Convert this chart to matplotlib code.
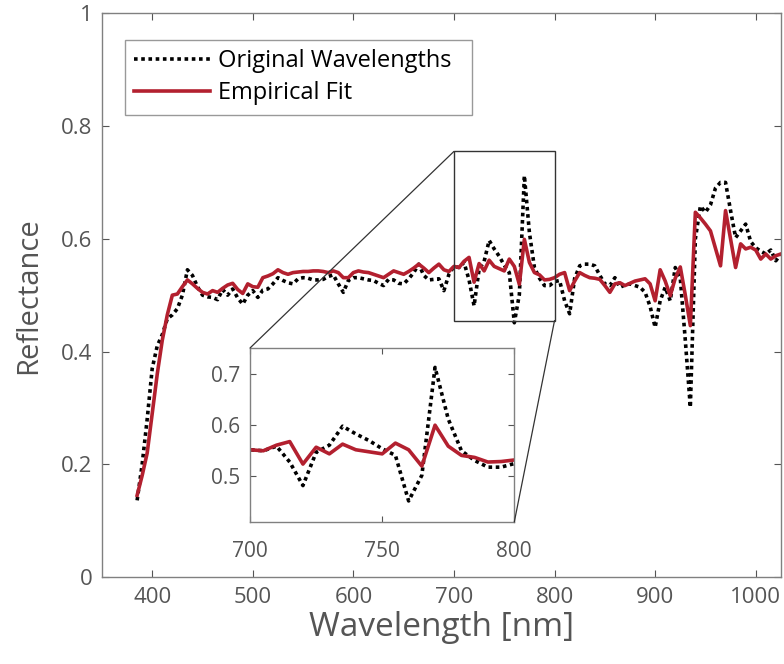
import matplotlib
matplotlib.use("Agg")
import matplotlib.pyplot as plt
import numpy as np
from matplotlib.patches import Rectangle, ConnectionPatch

plt.rcParams['font.family'] = ['Open Sans', 'DejaVu Sans']

# wavelength grid [nm], 5 nm steps
wavelength = np.arange(385, 1026, 5)

original = [
    0.136, 0.20, 0.28, 0.37, 0.41, 0.43, 0.458, 0.465, 0.476, 0.50,
    0.545, 0.535, 0.515, 0.50, 0.497, 0.496, 0.492, 0.51, 0.50, 0.511,
    0.495, 0.484, 0.50, 0.508, 0.496, 0.509, 0.511, 0.52, 0.531, 0.526,
    0.522, 0.52, 0.529, 0.531, 0.530, 0.527, 0.527, 0.528, 0.533, 0.536,
    0.52, 0.505, 0.526, 0.531, 0.531, 0.529, 0.527, 0.526, 0.521, 0.517,
    0.528, 0.527, 0.521, 0.52, 0.529, 0.54, 0.555, 0.535, 0.527, 0.528,
    0.529, 0.508, 0.537, 0.551, 0.549, 0.558, 0.527, 0.481, 0.546, 0.56,
    0.597, 0.582, 0.569, 0.553, 0.540, 0.451, 0.501, 0.712, 0.611, 0.549,
    0.530, 0.517, 0.517, 0.524, 0.526, 0.49, 0.467, 0.53, 0.552, 0.555,
    0.555, 0.552, 0.535, 0.52, 0.517, 0.531, 0.514, 0.518, 0.520, 0.517,
    0.514, 0.505, 0.48, 0.443, 0.49, 0.514, 0.490, 0.549, 0.530, 0.42,
    0.301, 0.60, 0.658, 0.647, 0.66, 0.690, 0.700, 0.700, 0.650, 0.602,
    0.614, 0.626, 0.595, 0.584, 0.578, 0.573, 0.580, 0.561, 0.573,
]

fit = [
    0.145, 0.18, 0.22, 0.29, 0.36, 0.42, 0.465, 0.50, 0.502, 0.515,
    0.527, 0.52, 0.512, 0.505, 0.502, 0.508, 0.505, 0.512, 0.518, 0.521,
    0.51, 0.503, 0.52, 0.515, 0.514, 0.531, 0.534, 0.538, 0.545, 0.54,
    0.537, 0.540, 0.541, 0.542, 0.542, 0.543, 0.543, 0.542, 0.540, 0.543,
    0.540, 0.531, 0.531, 0.540, 0.543, 0.541, 0.540, 0.537, 0.534, 0.531,
    0.537, 0.543, 0.540, 0.537, 0.542, 0.548, 0.555, 0.548, 0.540, 0.548,
    0.555, 0.545, 0.542, 0.551, 0.549, 0.560, 0.567, 0.523, 0.556, 0.543,
    0.562, 0.551, 0.547, 0.543, 0.564, 0.551, 0.519, 0.599, 0.558, 0.540,
    0.536, 0.527, 0.528, 0.531, 0.537, 0.540, 0.508, 0.525, 0.540, 0.535,
    0.531, 0.530, 0.528, 0.517, 0.505, 0.520, 0.522, 0.517, 0.521, 0.525,
    0.527, 0.529, 0.520, 0.490, 0.545, 0.525, 0.499, 0.530, 0.550, 0.500,
    0.446, 0.647, 0.637, 0.626, 0.614, 0.583, 0.552, 0.650, 0.600, 0.549,
    0.591, 0.582, 0.585, 0.580, 0.564, 0.573, 0.564, 0.570, 0.573,
]

red = '#b3202f'
gray = '#555555'
dotted = (0, (1, 1))

fig = plt.figure(figsize=(7.84, 6.64), dpi=100)
ax = fig.add_axes([0.130, 0.131, 0.866, 0.849])

ax.plot(wavelength, original, color='black', lw=2.6, linestyle=dotted,
        label='Original Wavelengths')
ax.plot(wavelength, fit, color=red, lw=2.6, label='Empirical Fit')

ax.set_xlim(350, 1025)
ax.set_ylim(0, 1)
ax.set_xticks([400, 500, 600, 700, 800, 900, 1000])
ax.set_yticks([0, 0.2, 0.4, 0.6, 0.8, 1])
ax.set_yticklabels(['0', '0.2', '0.4', '0.6', '0.8', '1'])
ax.tick_params(direction='in', top=True, right=True, length=5, width=0.8,
               color=gray, labelcolor=gray, labelsize=16, pad=7)
for s in ax.spines.values():
    s.set_color('#808080')
    s.set_linewidth(1.0)
ax.set_xlabel('Wavelength [nm]', fontsize=24, color=gray, labelpad=2)
ax.set_ylabel('Reflectance', fontsize=21, color=gray, labelpad=13)

# legend box stretched to a fixed width
leg = ax.legend(loc='upper left', bbox_to_anchor=(0.034, 0.0, 0.511, 0.953),
                mode='expand', fontsize=17, frameon=True, fancybox=False,
                handlelength=3.2, borderpad=0.4, labelspacing=0.35,
                handletextpad=0.35, borderaxespad=0)
leg.get_frame().set_edgecolor('#808080')
leg.get_frame().set_linewidth(1.0)

# zoom region box on the main axes
ax.add_patch(Rectangle((700, 0.455), 100, 0.30, fill=False,
                       edgecolor='#333333', lw=1.0, zorder=5))

# inset
axin = fig.add_axes([0.319, 0.214, 0.337, 0.262])
axin.plot(wavelength, original, color='black', lw=2.6, linestyle=dotted)
axin.plot(wavelength, fit, color=red, lw=2.6)
axin.set_xlim(700, 800)
axin.set_ylim(0.41, 0.75)
axin.set_xticks([700, 750, 800])
axin.set_yticks([0.5, 0.6, 0.7])
axin.tick_params(direction='in', top=True, right=True, length=4, width=0.8,
                 color=gray, labelcolor=gray, labelsize=15, pad=7)
axin.tick_params(axis='x', pad=14)
for s in axin.spines.values():
    s.set_color('#808080')
    s.set_linewidth(1.0)

for xy_in, xy_main in [((0, 1), (700, 0.755)), ((1, 0), (800, 0.455))]:
    con = ConnectionPatch(xyA=xy_in, coordsA=axin.transAxes,
                          xyB=xy_main, coordsB=ax.transData,
                          color='#333333', lw=0.9)
    fig.add_artist(con)

fig.savefig('out.png', dpi=100)
